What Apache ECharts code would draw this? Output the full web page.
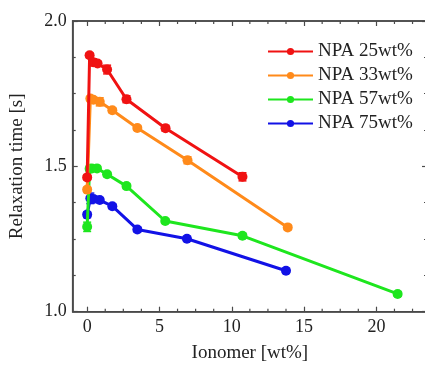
<!DOCTYPE html>
<html><head><meta charset="utf-8">
<script src="https://cdn.jsdelivr.net/npm/echarts@6/dist/echarts.min.js"></script>
<style>html,body{margin:0;padding:0;background:#fff}#c{width:425px;height:367px}</style>
</head><body><div id="c"></div>
<script>
// Data
const seriesNames = ['NPA 25wt%', 'NPA 33wt%', 'NPA 57wt%', 'NPA 75wt%'];
const xRed = [0, 0.17, 0.42, 0.72, 1.38, 2.72, 5.42, 10.74];
const yRed = [1.462, 1.882, 1.858, 1.854, 1.833, 1.731, 1.631, 1.464];
const eRed = [0.008, 0.008, 0.012, 0.008, 0.015, 0.012, 0.01, 0.014];
const xOrange = [0, 0.22, 0.43, 0.87, 1.74, 3.47, 6.94, 13.87];
const yOrange = [1.42, 1.733, 1.729, 1.722, 1.693, 1.632, 1.521, 1.29];
const eOrange = [0.008, 0.008, 0.008, 0.014, 0.008, 0.008, 0.012, 0.008];
const xGreen = [0, 0.17, 0.32, 0.68, 1.38, 2.72, 5.4, 10.74, 21.47];
const yGreen = [1.292, 1.492, 1.493, 1.493, 1.473, 1.432, 1.312, 1.261, 1.061];
const eGreen = [0.016, 0.008, 0.008, 0.008, 0.008, 0.008, 0.008, 0.008, 0.008];
const xBlue = [0, 0.22, 0.43, 0.87, 1.74, 3.47, 6.9, 13.75];
const yBlue = [1.334, 1.39, 1.388, 1.384, 1.363, 1.283, 1.251, 1.141];
const eBlue = [0.01, 0.018, 0.008, 0.008, 0.008, 0.008, 0.008, 0.008];
const xMajorTicks = [0, 5, 10, 15, 20];
const xMinorTicks = [1.25, 2.5, 3.75, 6.25, 7.5, 8.75, 11.25, 12.5, 13.75, 16.25, 17.5, 18.75, 21.25, 22.5];

const colors = ['#f01212', '#ff8a1a', '#1ee61e', '#1212e6'];
const FONT = '"Liberation Serif", "Times New Roman", serif';
const xs = [xRed, xOrange, xGreen, xBlue];
const ys = [yRed, yOrange, yGreen, yBlue];
const es = [eRed, eOrange, eGreen, eBlue];

const chart = echarts.init(document.getElementById('c'));
const axisColor = '#4a4a4a';
const X_MIN = -1, X_MAX = 23.5, Y_MIN = 1, Y_MAX = 2;

function xAxisDef(pos, showLabel, name) {
  const ax = {
    type: 'value', position: pos, min: X_MIN, max: X_MAX, zlevel: 1,
    name: name || '', nameLocation: 'middle', nameGap: 32,
    nameTextStyle: {fontFamily: FONT, fontSize: 19, color: '#222'},
    axisLine: {show: true, onZero: false, lineStyle: {color: axisColor, width: 1.6}},
    axisTick: {show: true, inside: true, length: 5, customValues: xMajorTicks, lineStyle: {color: axisColor, width: 1.2}},
    axisLabel: {show: showLabel, fontFamily: FONT, fontSize: 18, color: '#222', margin: 7},
    splitLine: {show: false}
  };
  if (showLabel) ax.axisLabel.customValues = xMajorTicks;
  return ax;
}
function yAxisDef(pos, showLabel, name) {
  return {
    type: 'value', position: pos, min: Y_MIN, max: Y_MAX, interval: 0.5, zlevel: 1,
    name: name || '', nameLocation: 'middle', nameGap: 46, nameRotate: 90,
    nameTextStyle: {fontFamily: FONT, fontSize: 19, color: '#222'},
    axisLine: {show: true, onZero: false, lineStyle: {color: axisColor, width: 1.6}},
    axisTick: {show: true, inside: true, length: 5, lineStyle: {color: axisColor, width: 1.2}},
    minorTick: {show: true, splitNumber: 4, length: 3, lineStyle: {color: axisColor, width: 1.2}},
    axisLabel: {show: showLabel, fontFamily: FONT, fontSize: 18, color: '#222', margin: 6, formatter: v => v.toFixed(1)},
    splitLine: {show: false}
  };
}

const series = [];
for (let i = 0; i < 4; i++) {
  series.push({
    name: seriesNames[i], type: 'line', xAxisIndex: 0, yAxisIndex: 0,
    data: xs[i].map((x, j) => [x, ys[i][j]]),
    symbol: 'circle', symbolSize: 10, showSymbol: true,
    lineStyle: {color: colors[i], width: 3},
    itemStyle: {color: colors[i]},
    z: 10 - i
  });
  series.push({
    name: seriesNames[i] + ' err', type: 'custom', xAxisIndex: 0, yAxisIndex: 0,
    data: xs[i].map((x, j) => [x, ys[i][j], es[i][j]]),
    z: 10 - i,
    renderItem: function (params, api) {
      const x = api.value(0), y = api.value(1), e = api.value(2);
      const lo = api.coord([x, y - e]), hi = api.coord([x, y + e]);
      const w = 4;
      const st = {stroke: colors[i], lineWidth: 1.5};
      return {type: 'group', children: [
        {type: 'line', shape: {x1: lo[0], y1: lo[1], x2: hi[0], y2: hi[1]}, style: st},
        {type: 'line', shape: {x1: lo[0] - w, y1: lo[1], x2: lo[0] + w, y2: lo[1]}, style: st},
        {type: 'line', shape: {x1: hi[0] - w, y1: hi[1], x2: hi[0] + w, y2: hi[1]}, style: st}
      ]};
    }
  });
}
// minor ticks on the x axes (bottom and top), inward
series.push({
  type: 'custom', xAxisIndex: 0, yAxisIndex: 0, silent: true, z: 2, zlevel: 1,
  data: xMinorTicks.map(v => [v, Y_MIN]),
  renderItem: function (params, api) {
    const b = api.coord([api.value(0), Y_MIN]);
    const t = api.coord([api.value(0), Y_MAX]);
    const st = {stroke: axisColor, lineWidth: 1.2};
    return {type: 'group', children: [
      {type: 'line', shape: {x1: b[0], y1: b[1], x2: b[0], y2: b[1] - 3}, style: st},
      {type: 'line', shape: {x1: t[0], y1: t[1], x2: t[0], y2: t[1] + 3}, style: st}
    ]};
  }
});

chart.setOption({
  animation: false,
  grid: {left: 72.7, right: -2, top: 21, bottom: 367 - 311.7, outerBoundsMode: 'none', zlevel: 1,
         show: true, borderColor: axisColor, borderWidth: 1.6, backgroundColor: 'transparent'},
  legend: {
    data: seriesNames, orient: 'vertical', left: 262, top: 37,
    itemWidth: 45, itemHeight: 9, itemGap: 5,
    textStyle: {fontFamily: FONT, fontSize: 19, color: '#222'}
  },
  xAxis: [xAxisDef('bottom', true, 'Ionomer [wt%]'), xAxisDef('top', false)],
  yAxis: [yAxisDef('left', true, 'Relaxation time [s]'), yAxisDef('right', false)],
  series: series
});
</script></body></html>
